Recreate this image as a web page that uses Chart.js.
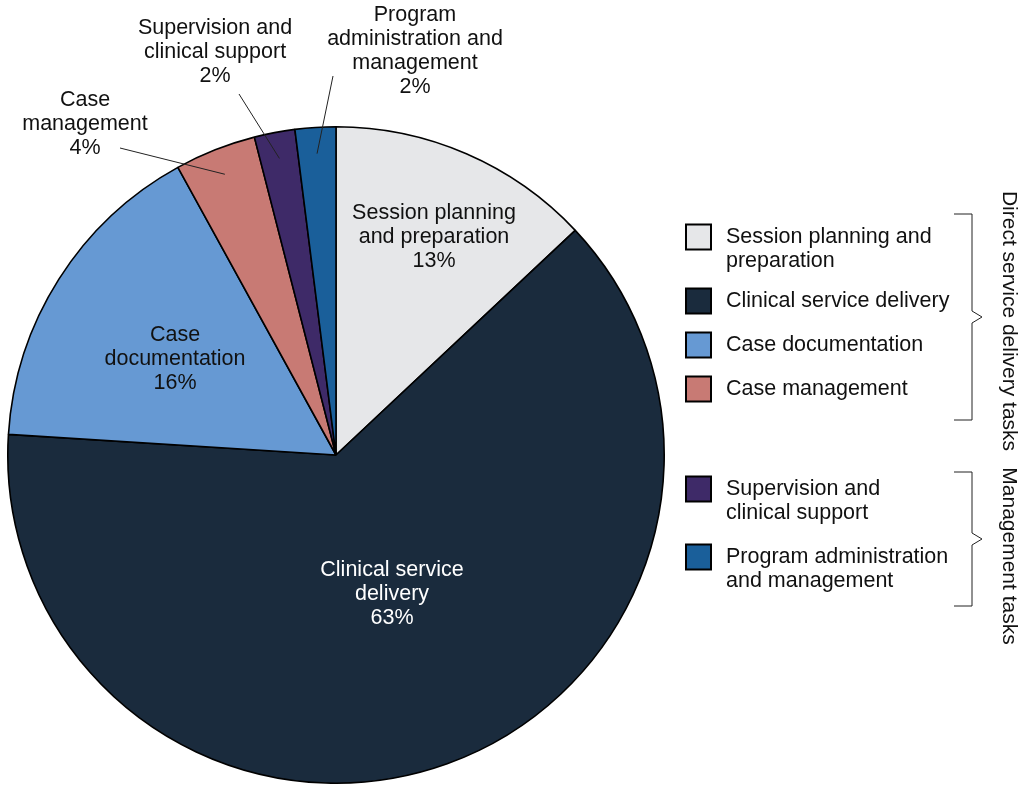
<!DOCTYPE html>
<html>
<head>
<meta charset="utf-8">
<title>Time use by task</title>
<script src="https://cdn.jsdelivr.net/npm/chart.js@4.4.1/dist/chart.umd.min.js"></script>
<style>
  html, body { margin: 0; padding: 0; background: #fff; }
  #wrap { width: 1021px; height: 785px; position: relative; }
</style>
</head>
<body>
<div id="wrap"><canvas id="c-pie"></canvas></div>
<script>
// Share of staff time by task (percent)
const categories = [
  'Session planning and preparation',
  'Clinical service delivery',
  'Case documentation',
  'Case management',
  'Supervision and clinical support',
  'Program administration and management'
];
const shares = [13, 63, 16, 4, 2, 2];

// wrapped text used on the pie and in the legend
const sliceLabels = [
  ['Session planning', 'and preparation'],
  ['Clinical service', 'delivery'],
  ['Case', 'documentation'],
  ['Case', 'management'],
  ['Supervision and', 'clinical support'],
  ['Program', 'administration and', 'management']
];
const legendLabels = [
  ['Session planning and', 'preparation'],
  ['Clinical service delivery'],
  ['Case documentation'],
  ['Case management'],
  ['Supervision and', 'clinical support'],
  ['Program administration', 'and management']
];
const groupNames = ['Direct service delivery tasks', 'Management tasks'];
const groupMembers = [[0, 1, 2, 3], [4, 5]];

const sliceColors = ['#e6e7e9', '#1a2b3d', '#6699d3', '#c87a74', '#3e2a68', '#1a5f9a'];

// label placement (first line centre) and optional leader start
const labelLayout = [
  { x: 434, y: 213, color: '#111' },
  { x: 392, y: 570, color: '#fff' },
  { x: 175, y: 335, color: '#111' },
  { x: 85,  y: 100, color: '#111', leader: [120, 148] },
  { x: 215, y: 28,  color: '#111', leader: [239, 94] },
  { x: 415, y: 15,  color: '#111', leader: [333, 76] }
];
const legendLayout = { swatchX: 686, swatch: 25, textX: 726, rows: [237, 301, 345, 389, 489, 557] };
const bracketLayout = [
  { x: 972, top: 214, bottom: 420, tip: 982, textY: 321 },
  { x: 972, top: 472, bottom: 606, tip: 982, textY: 556 }
];
const FONT = '21.5px "Liberation Sans", Arial, sans-serif';
const GROUP_FONT = '21px "Liberation Sans", Arial, sans-serif';
const LINE_H = 24;

const pieLabels = {
  id: 'pieLabels',
  afterDraw(chart) {
    const ctx = chart.ctx;
    const arcs = chart.getDatasetMeta(0).data;
    ctx.save();
    ctx.font = FONT;
    ctx.textAlign = 'center';
    ctx.textBaseline = 'middle';

    arcs.forEach((arc, i) => {
      const lay = labelLayout[i];
      const lines = sliceLabels[i].concat([shares[i] + '%']);
      lines.forEach((t, k) => {
        ctx.fillStyle = lay.color;
        ctx.fillText(t, lay.x, lay.y + k * LINE_H);
      });
      if (lay.leader) {
        const { x, y, startAngle, endAngle, outerRadius } = arc.getProps(['x', 'y', 'startAngle', 'endAngle', 'outerRadius'], true);
        const mid = (startAngle + endAngle) / 2;
        const r = outerRadius * 0.92;
        ctx.strokeStyle = '#222';
        ctx.lineWidth = 1;
        ctx.beginPath();
        ctx.moveTo(lay.leader[0], lay.leader[1]);
        ctx.lineTo(x + Math.cos(mid) * r, y + Math.sin(mid) * r);
        ctx.stroke();
      }
    });
    ctx.restore();
  }
};

const groupedLegend = {
  id: 'groupedLegend',
  afterDraw(chart) {
    const ctx = chart.ctx;
    const ds = chart.data.datasets[0];
    const L = legendLayout;
    ctx.save();
    ctx.font = FONT;
    ctx.textBaseline = 'middle';

    legendLabels.forEach((lines, i) => {
      const cy = L.rows[i];
      ctx.fillStyle = ds.backgroundColor[i];
      ctx.fillRect(L.swatchX, cy - L.swatch / 2, L.swatch, L.swatch);
      ctx.strokeStyle = '#000';
      ctx.lineWidth = 2;
      ctx.strokeRect(L.swatchX, cy - L.swatch / 2, L.swatch, L.swatch);
      ctx.fillStyle = '#111';
      ctx.textAlign = 'left';
      lines.forEach((t, k) => ctx.fillText(t, L.textX, cy + k * LINE_H));
    });

    // right-hand braces with rotated group names
    bracketLayout.forEach((b, g) => {
      const mid = (b.top + b.bottom) / 2;
      ctx.strokeStyle = '#222';
      ctx.lineWidth = 1;
      ctx.beginPath();
      ctx.moveTo(b.x - 18, b.top);
      ctx.lineTo(b.x, b.top);
      ctx.lineTo(b.x, mid - 6);
      ctx.lineTo(b.tip, mid);
      ctx.lineTo(b.x, mid + 6);
      ctx.lineTo(b.x, b.bottom);
      ctx.lineTo(b.x - 18, b.bottom);
      ctx.stroke();

      ctx.save();
      ctx.translate(1009, b.textY);
      ctx.rotate(Math.PI / 2);
      ctx.font = GROUP_FONT;
      ctx.textAlign = 'center';
      ctx.fillStyle = '#111';
      ctx.fillText(groupNames[g], 0, 0);
      ctx.restore();
    });
    ctx.restore();
  }
};

new Chart(document.getElementById('c-pie'), {
  type: 'pie',
  data: {
    labels: categories,
    datasets: [{
      data: shares,
      backgroundColor: sliceColors,
      borderColor: '#000',
      borderWidth: 1.6
    }]
  },
  options: {
    responsive: true,
    maintainAspectRatio: false,
    animation: false,
    layout: { padding: { top: 126, bottom: 1, left: 7, right: 356 } },
    plugins: { legend: { display: false }, tooltip: { enabled: false } }
  },
  plugins: [pieLabels, groupedLegend]
});
</script>
</body>
</html>
